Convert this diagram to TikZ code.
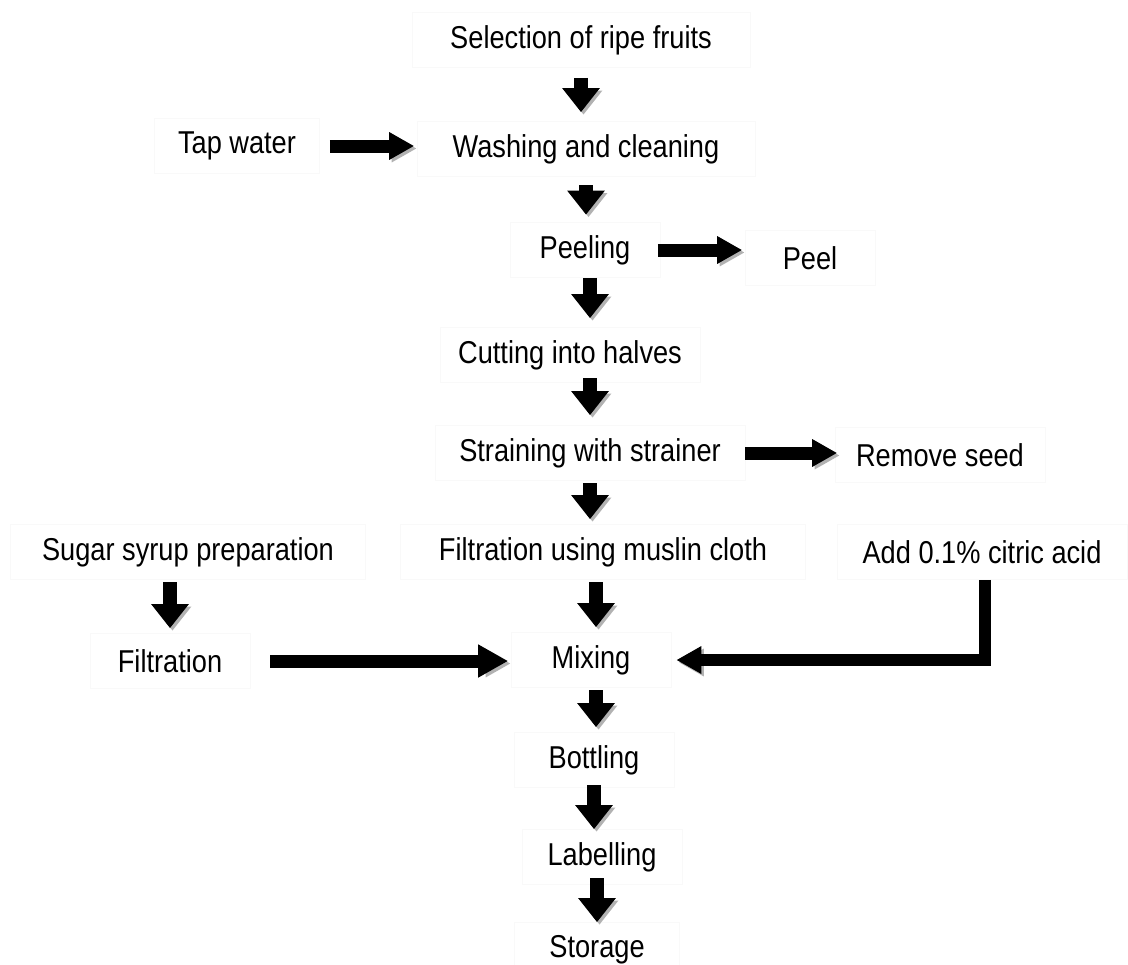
\documentclass[tikz,border=0pt]{standalone}
\usepackage{fontspec}
\setmainfont{Liberation Sans}[FakeStretch=0.86]
\usetikzlibrary{arrows.meta,positioning}

\tikzset{
  stage/.style={draw=black!2.5, minimum width=#1, minimum height=1.1cm,
    inner sep=0pt, font=\fontsize{18}{21}\selectfont},
  stage/.default=3.2cm,
  vflow/.style={line width=0.27cm, shorten <=0.05cm, shorten >=0.1cm,
    -{Triangle[length=0.48cm, width=0.72cm]},
    preaction={draw=black!30, -{Triangle[length=0.48cm, width=0.72cm]},
      transform canvas={shift={(0.05cm,-0.05cm)}}}},
  hflow/.style={line width=0.26cm, shorten <=0.2cm, shorten >=0.05cm,
    -{Triangle[length=0.5cm, width=0.52cm]},
    preaction={draw=black!30, -{Triangle[length=0.5cm, width=0.52cm]},
      transform canvas={shift={(0.05cm,-0.05cm)}}}},
}

\begin{document}
\begin{tikzpicture}[x=0.02cm, y=-0.02cm]
  \useasboundingbox (0,0) rectangle (1128,964);

  % main line
  \node [stage=6.76cm] (select) at (581,40) {Selection of ripe fruits};
  \node [stage=6.76cm] (wash) at (586,149) {Washing and cleaning};
  \node [stage=3cm] (peeling) at (585,250) {Peeling};
  \node [stage=5.2cm] (cut) at (570,355) {Cutting into halves};
  \node [stage=6.2cm] (strain) at (590,453) {Straining with strainer};
  \node [stage=8.1cm] (muslin) at (603,552) {Filtration using muslin cloth};
  \node [stage] (mix) at (591,660) {Mixing};
  \node [stage] (bottle) at (594,760) {Bottling};
  \node [stage] (label) at (602,857) {Labelling};
  \node [stage=3.3cm] (store) at (597,950) {Storage};

  % side inputs and outputs
  \node [stage=3.3cm] (tap) at (237,146) {Tap water};
  \node [stage=2.6cm] (peel) at (810,258) {Peel};
  \node [stage=4.2cm] (seed) at (940,455) {Remove seed};
  \node [stage=7.1cm] (sugar) at (188,552) {Sugar syrup preparation};
  \node [stage] (filt) at (170,661) {Filtration};
  \node [stage=5.8cm] (citric) at (982,552) {Add 0.1\% citric acid};

  % vertical steps
  \draw [vflow, shorten <=0.2cm, shorten >=0.18cm] (select.south) -- (select.south |- wash.north);
  \draw [vflow, shorten <=0.17cm, shorten >=0.15cm] (wash.south) -- (wash.south |- peeling.north);
  \draw [vflow, shorten <=0cm, shorten >=0.18cm] ([xshift=0.1cm]peeling.south) -- ([xshift=0.1cm]peeling.south |- cut.north);
  \draw [vflow, shorten <=-0.09cm, shorten >=0.2cm] (strain.north |- cut.south) -- (strain.north);
  \draw [vflow] (strain.south) -- (strain.south |- muslin.north);
  \draw [vflow] (filt.north |- sugar.south) -- (filt.north);
  \draw [vflow] ([xshift=0.1cm]mix.north |- muslin.south) -- ([xshift=0.1cm]mix.north);
  \draw [vflow] ([xshift=0.1cm]mix.south) -- ([xshift=0.1cm]mix.south |- bottle.north);
  \draw [vflow, shorten <=-0.05cm, shorten >=0cm] (bottle.south) -- (bottle.south |- label.north);
  \draw [vflow, shorten <=-0.13cm, shorten >=0cm] (store.north |- label.south) -- (store.north);

  % horizontal steps
  \draw [hflow] (tap) -- (tap -| wash.west);
  \draw [hflow, shorten <=-0.05cm] (peeling.east) -- (peeling.east -| peel.west);
  \draw [hflow, shorten <=0cm, shorten >=-0.05cm] (strain.east) -- (strain.east -| seed.west);
  \draw [hflow, shorten <=0.4cm, -{Triangle[length=0.6cm, width=0.62cm]}] (filt.east) -- (filt.east -| mix.west);
  \draw [hflow, line width=0.24cm, shorten <=0cm, shorten >=0.1cm, line join=miter] ([xshift=0.06cm]citric.south) |- (mix.east);
\end{tikzpicture}
\end{document}
